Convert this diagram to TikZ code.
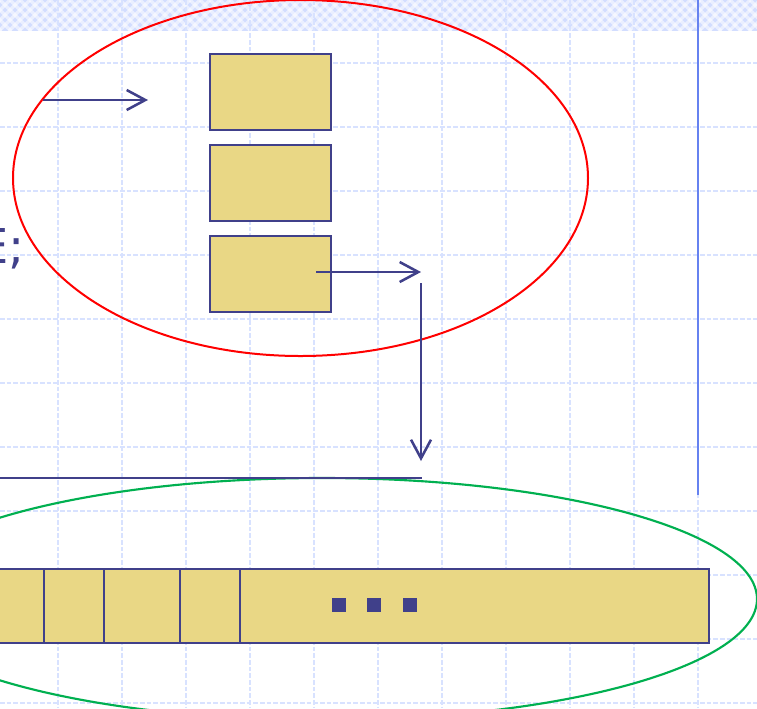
\documentclass[tikz,border=0pt]{standalone}
\usepackage{fontspec}
\setmainfont{DejaVu Sans}
\usetikzlibrary{arrows.meta}

\definecolor{ink}{RGB}{64,64,138}
\definecolor{cellfill}{RGB}{233,215,133}
\definecolor{gridblue}{RGB}{216,226,255}
\definecolor{bandblue}{RGB}{210,221,255}
\definecolor{railblue}{RGB}{102,130,240}
\definecolor{ovalgreen}{RGB}{0,176,80}

\tikzset{
  cell/.style={draw=ink, fill=cellfill, line width=1.5pt, inner sep=0pt, outer sep=0pt},
  smallcell/.style={cell, minimum width=90.75pt, minimum height=57pt},
  pointer/.style={draw=ink, line width=1.9pt, -{Straight Barb[length=14pt, width=15pt, line width=1.9pt]}},
  plainline/.style={draw=ink, line width=1.9pt},
  gridline/.style={draw=gridblue, line width=1.3pt, dash pattern=on 3.5pt off 1.5pt},
  dotmark/.style={fill=ink, inner sep=0pt, minimum size=10.5pt},
}

\begin{document}
\begin{tikzpicture}[x=0.75pt, y=-0.75pt]
  \useasboundingbox (0,0) rectangle (757,708);
  \clip (0,0) rectangle (757,708);
  \fill[white] (0,0) rectangle (757,708);

  % checkered title band
  \begin{scope}
    \clip (0,0) rectangle (757,31);
    \fill[bandblue] (0,0) rectangle (757,31);
    \foreach \k in {-40,...,80} {
      \draw[white, opacity=0.55, line width=2.4pt] (\k*10,0) -- ++(31,31);
      \draw[white, opacity=0.55, line width=2.4pt] (\k*10,0) -- ++(-31,31);
    }
  \end{scope}

  % dashed background grid
  \foreach \gx in {58,122,...,698} \draw[gridline] (\gx,0) -- (\gx,708);
  \foreach \gy in {63,127,...,703} \draw[gridline] (0,\gy) -- (757,\gy);

  % vertical rule on the right
  \draw[railblue, line width=1.3pt] (698,0) -- (698,495);

  % partial statement text on the left
  \node[anchor=base west, inner sep=0pt, text=ink, font=\fontsize{36}{36}\selectfont] (stmt) at (-22,263) {E;};

  % three small cells
  \node[smallcell] (box1) at (270.5,92) {};
  \node[smallcell] (box2) at (270.5,183) {};
  \node[smallcell] (box3) at (270.5,273.5) {};

  % red oval around the cells
  \draw[red, line width=1.5pt] (300.5,178) ellipse [x radius=287.5, y radius=178];

  % long array strip
  \node[cell, minimum width=535.5pt, minimum height=55.5pt] (strip) at (352,606) {};
  \foreach \dx in {44,104,180,240}
    \draw[ink, line width=1.5pt] (\dx,0 |- strip.north) -- (\dx,0 |- strip.south);
  \node[dotmark] (dot1) at (339,605) {};
  \node[dotmark] (dot2) at (374,605) {};
  \node[dotmark] (dot3) at (410,605) {};

  % green oval around the strip
  \draw[ovalgreen, line width=1.6pt] (322,599) ellipse [x radius=435, y radius=121];

  % pointers
  \coordinate (p1s) at (43,100);
  \coordinate (p1e) at (148,100);
  \draw[pointer] (p1s) -- (p1e);

  \coordinate (p2s) at (316,272);
  \coordinate (p2e) at (421,272);
  \draw[pointer] (p2s) -- (p2e);

  \coordinate (p3s) at (421,283);
  \coordinate (p3e) at (421,461);
  \draw[pointer] (p3s) -- (p3e);

  \coordinate (h1) at (0,478);
  \coordinate (h2) at (422,478);
  \draw[plainline] (h1) -- (h2);
\end{tikzpicture}
\end{document}
